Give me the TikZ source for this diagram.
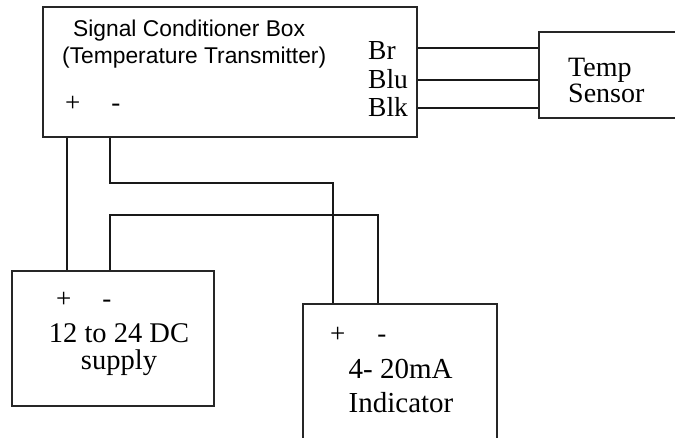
\documentclass[tikz,border=0pt]{standalone}
\usepackage{fontspec}
\setmainfont{Liberation Serif}
\setsansfont{Liberation Sans}
\usetikzlibrary{positioning}
\tikzset{
    unit/.style={
        rectangle, draw=black!85, line width=1.7pt,
        inner sep=0pt
    },
    wire/.style={line width=1.6pt, draw=black!90},
    txt/.style={inner sep=0pt, font=\fontsize{28.5}{27}\selectfont},
    sans/.style={inner sep=0pt, font=\sffamily\fontsize{22.8}{27}\selectfont},
    pm/.style={inner sep=0pt, anchor=base west, font=\fontsize{27}{27}\selectfont}
}
\begin{document}
\begin{tikzpicture}[x=1pt, y=-1pt]
    \useasboundingbox (0,0) rectangle (675,438);
    \clip (0,0) rectangle (675,438);

    % Boxes
    \node[unit, minimum width=374pt, minimum height=130pt] (box) at (230,72) {};
    \node[unit, minimum width=181pt, minimum height=86pt] (sensor) at (629.5,75) {};
    \node[unit, minimum width=202pt, minimum height=135pt] (supply) at (113,338.5) {};
    \node[unit, minimum width=194pt, minimum height=176pt] (ind) at (400,392) {};

    % Box texts (base = last line)
    \node[sans, anchor=base west, align=left] (title) at (62,64)
        {\hspace*{11pt}Signal Conditioner Box\\(Temperature Transmitter)};
    \node[txt, anchor=base west, align=left, font=\fontsize{27.5}{28.5}\selectfont] (leads) at (368,117)
        {Br\\Blu\\Blk};
    \node[txt, anchor=base west, align=left, font=\fontsize{28}{26.5}\selectfont] (sensortext) at (568,103)
        {Temp\\Sensor};
    \node[txt, anchor=base, align=center] (supplytext) at (119,370)
        {12 to 24 DC\\supply};
    \node[txt, anchor=base, align=left, font=\fontsize{29}{34}\selectfont] (indtext) at (401,412)
        {4- 20mA\\Indicator};

    % Terminals
    \node[pm] (boxpm) at (65,112) {+\hspace{31pt}-};
    \node[pm] (supplypm) at (56,308) {+\hspace{31pt}-};
    \node[pm] (indpm) at (330,343) {+\hspace{32pt}-};

    % Sensor leads
    \draw[wire] ([yshift=27pt]sensor.west) -- ([yshift=27pt]sensor.west -| box.east);
    \draw[wire] ([yshift=-5pt]sensor.west) -- ([yshift=-5pt]sensor.west -| box.east);
    \draw[wire] ([yshift=-33pt]sensor.west) -- ([yshift=-33pt]sensor.west -| box.east);

    % Power loop
    \draw[wire] ([xshift=-163pt]box.south) -- ([xshift=-46pt]supply.north);
    \draw[wire] ([xshift=-120pt]box.south) -- ++(0,45) -| ([xshift=-67pt]ind.north);
    \draw[wire] ([xshift=-3pt]supply.north) -- ++(0,-55) -| ([xshift=-22pt]ind.north);

\end{tikzpicture}
\end{document}
